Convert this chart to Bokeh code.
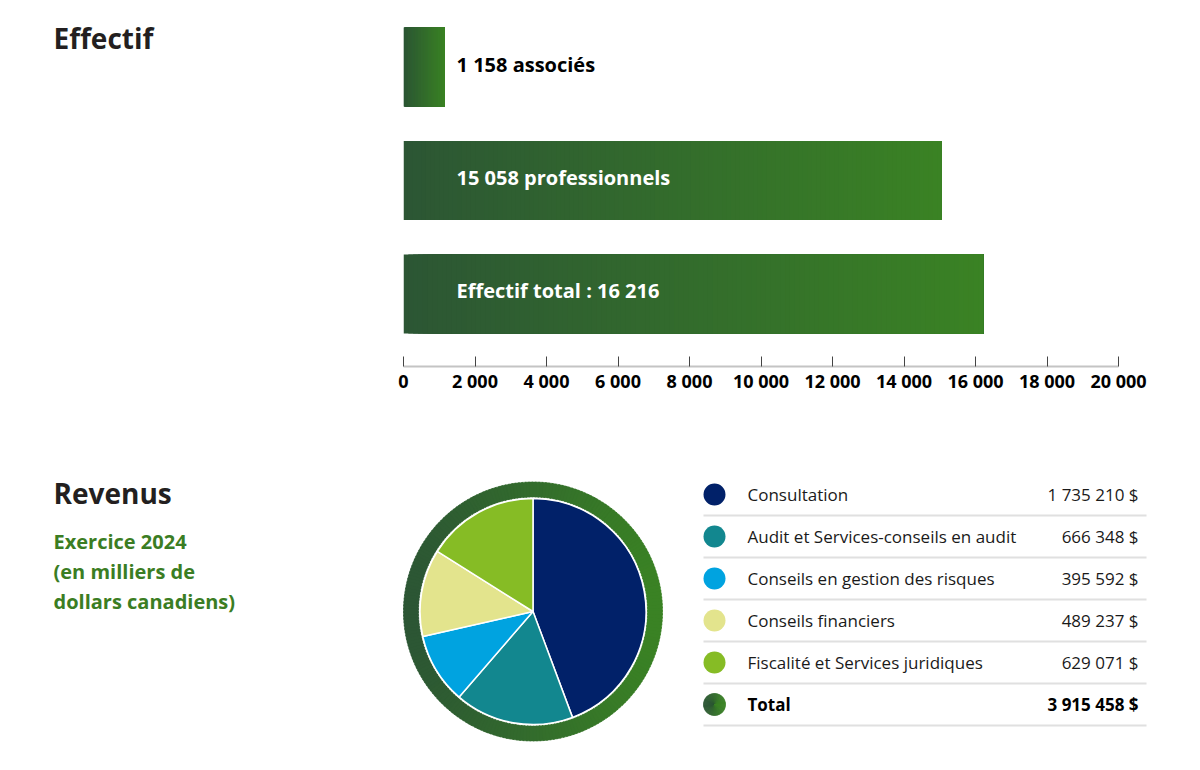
import numpy as np
from bokeh.plotting import figure
from bokeh.layouts import column, row
from bokeh.models import Range1d, FixedTicker
from bokeh.embed import file_html
from bokeh.resources import INLINE
from bokeh.core.properties import value

FONT = "Open Sans"

# ---------------- data ----------------
staff_labels = ["associés", "professionnels", "Effectif total"]
staff_values = [1158, 15058, 16216]
axis_ticks = [0, 2000, 4000, 6000, 8000, 10000, 12000, 14000, 16000, 18000, 20000]

rev_categories = ["Consultation", "Audit et Services-conseils en audit",
                  "Conseils en gestion des risques", "Conseils financiers",
                  "Fiscalité et Services juridiques"]
rev_values = [1735210, 666348, 395592, 489237, 629071]
rev_colors = ["#012169", "#12878f", "#00a3e0", "#e3e48d", "#86bc25"]

title_staff = "Effectif"
title_rev = "Revenus"
subtitle_rev = ["Exercice 2024", "(en milliers de", "dollars canadiens)"]

GRAD_L = (44, 86, 52)
GRAD_R = (58, 130, 36)


def mix(t):
    return "#%02x%02x%02x" % tuple(int(round(a + (b - a) * t)) for a, b in zip(GRAD_L, GRAD_R))


def fmt(n):
    return f"{n:,}".replace(",", " ")


def blank(w, h, xr, yr):
    p = figure(width=w, height=h, x_range=xr, y_range=yr, output_backend="svg",
               toolbar_location=None, x_axis_type=None, y_axis_type=None, min_border=0)
    p.grid.visible = False
    p.outline_line_color = None
    return p


# ---------------- top left (title) ----------------
pl = blank(383, 410, Range1d(0, 383), Range1d(0, 410))
pl.text(x=[53], y=[410 - 42], text=[title_staff], text_font=value(FONT), text_font_style="bold",
        text_font_size="28px", text_color="#231f20", text_baseline="middle")

# ---------------- bar chart ----------------
pb = figure(width=817, height=410, x_range=Range1d(0, 20000), y_range=Range1d(2.639, -0.586),
            output_backend="svg", toolbar_location=None, y_axis_type=None,
            min_border_left=20, min_border_right=82, min_border_top=0, min_border_bottom=44)
pb.grid.visible = False
pb.outline_line_color = None

N = 120
lefts, rights, tops, bottoms, cols = [], [], [], [], []
for i, v in enumerate(staff_values):
    for k in range(N):
        lefts.append(v * k / N)
        rights.append(v)
        tops.append(i - 0.348)
        bottoms.append(i + 0.348)
        cols.append(mix(k / (N - 1)))
pb.quad(left=lefts, right=rights, top=tops, bottom=bottoms, fill_color=cols, line_color=None)

bar_texts = [f"{fmt(staff_values[0])} {staff_labels[0]}",
             f"{fmt(staff_values[1])} {staff_labels[1]}",
             f"{staff_labels[2]} : {fmt(staff_values[2])}"]
pb.text(x=[0, 0, 0], y=list(range(len(staff_values))), text=bar_texts, x_offset=53, y_offset=-3,
        text_color=["#000000", "#ffffff", "#ffffff"], text_font=value(FONT),
        text_font_style="bold", text_font_size="20px", text_baseline="middle")

ax = pb.xaxis[0]
ax.ticker = FixedTicker(ticks=axis_ticks)
ax.major_label_overrides = {t: fmt(t) for t in axis_ticks}
ax.axis_line_color = "#c4c4c4"
ax.axis_line_width = 2
ax.major_tick_line_color = "#444444"
ax.major_tick_in = 10
ax.major_tick_out = 0
ax.minor_tick_line_color = None
ax.major_label_text_font = FONT
ax.major_label_text_font_style = "bold"
ax.major_label_text_font_size = "18px"
ax.major_label_text_color = "#000000"
ax.major_label_standoff = 2

# ---------------- bottom ----------------
pbot = blank(1200, 360, Range1d(0, 1200), Range1d(0, 360))


def Y(py):
    return 770 - py


pbot.text(x=[53], y=[Y(492.5)], text=[title_rev], text_font=value(FONT), text_font_style="bold",
          text_font_size="28px", text_color="#231f20", text_baseline="middle")
pbot.text(x=[53] * len(subtitle_rev), y=[Y(541 + 30 * i) for i in range(len(subtitle_rev))],
          text=subtitle_rev, text_font=value(FONT), text_font_style="bold",
          text_font_size="20px", text_color="#3b7d23", text_baseline="middle")


def grad_disc(p, cx, cy, r_in, r_out, m):
    angs = np.linspace(0, 2 * np.pi, m + 1)
    mids = (angs[:-1] + angs[1:]) / 2
    c = [mix((np.cos(a) + 1) / 2) for a in mids]
    p.annular_wedge(x=cx, y=cy, inner_radius=r_in, outer_radius=r_out,
                    start_angle=angs[:-1], end_angle=angs[1:] + 0.01,
                    fill_color=c, line_color=c, line_width=0.5)


cx, cy = 532.5, Y(611)
grad_disc(pbot, cx, cy, 114.5, 129.5, 240)

tot = sum(rev_values)
cum = np.cumsum([0] + rev_values) / tot
starts = np.pi / 2 - 2 * np.pi * cum[:-1]
ends = np.pi / 2 - 2 * np.pi * cum[1:]
pbot.wedge(x=cx, y=cy, radius=113, start_angle=starts, end_angle=ends, direction="clock",
           fill_color=rev_colors, line_color="white", line_width=1.5)

# legend table
row_labels = rev_categories + ["Total"]
row_values = rev_values + [tot]
centers = [494 + 42 * i for i in range(len(row_labels))]
pbot.circle(x=[714] * len(rev_colors), y=[Y(c) for c in centers[:-1]], radius=11,
            fill_color=rev_colors, line_color=None)
grad_disc(pbot, 714, Y(centers[-1]), 0, 11, 90)

ty = [Y(c - 0.5) for c in centers]
pbot.text(x=[747] * 5, y=ty[:-1], text=rev_categories,
          text_font=value(FONT), text_font_size="17px", text_color="#1a1a1a",
          text_baseline="middle")
pbot.text(x=[1138] * 5, y=ty[:-1], text=[fmt(v) + " $" for v in rev_values],
          text_font=value(FONT), text_font_size="17px", text_color="#1a1a1a",
          text_baseline="middle", text_align="right")
pbot.text(x=[747], y=[ty[-1]], text=[row_labels[-1]], text_font=value(FONT),
          text_font_style="bold", text_font_size="17px", text_color="#000000", text_baseline="middle")
pbot.text(x=[1138], y=[ty[-1]], text=[fmt(tot) + " $"], text_font=value(FONT),
          text_font_style="bold", text_font_size="17px", text_color="#000000",
          text_baseline="middle", text_align="right")

seps = [Y(c + 21) for c in centers]
pbot.segment(x0=[703] * len(seps), x1=[1146] * len(seps), y0=seps, y1=seps,
             line_color="#e0e0e0", line_width=2)

layout = column(row(pl, pb), pbot)
open("out.html", "w").write(file_html(layout, INLINE))
